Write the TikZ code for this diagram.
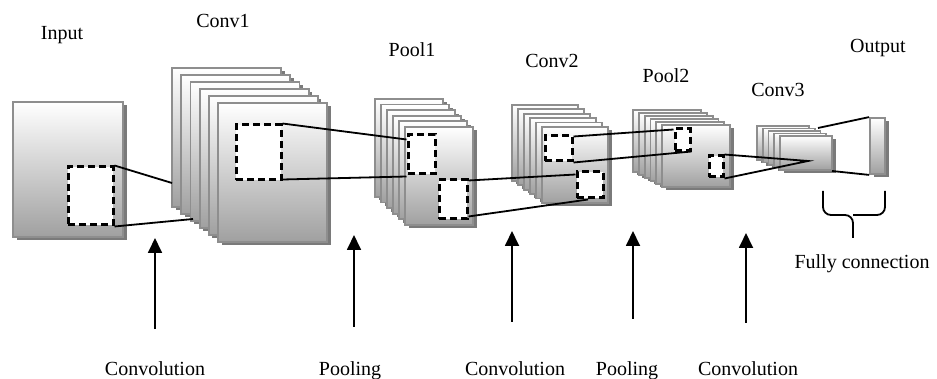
\documentclass[tikz,border=0pt]{standalone}
\usepackage{fontspec}
\setmainfont{Liberation Serif}
\usetikzlibrary{arrows.meta, shadows, calc}
\definecolor{sheetEdge}{HTML}{8E8E8E}
\definecolor{sheetLow}{HTML}{A0A0A0}
\definecolor{sheetShade}{HTML}{7A7A7A}

\begin{document}
\begin{tikzpicture}[x=1pt, y=-1pt,
  every node/.style={font=\fontsize{20}{23}\selectfont},
  sheet/.style={draw=sheetEdge, line width=1.8pt, top color=white, bottom color=sheetLow,
    drop shadow={shadow xshift=3.5pt, shadow yshift=-3.5pt, fill=sheetShade, opacity=1}},
  window/.style={draw=black, fill=white, line width=3pt, dash pattern=on 7pt off 4pt, inner sep=0pt},
  link/.style={black, line width=1.8pt},
  uparrow/.style={-{Triangle[length=15pt, width=14pt]}, line width=1.8pt},
  lbl/.style={anchor=base}]
  \useasboundingbox (0,0) rectangle (937,379);

  % input image
  \node[sheet, minimum width=110pt, minimum height=135pt, inner sep=0pt] (inp) at (68,169.5) {};
  \node[window, minimum width=45pt, minimum height=58pt] (inwin) at (90.5,196) {};

  % feature map stacks, back to front
  \foreach \i in {0,...,5}
    \draw[sheet] (172+9.2*\i, 68+7*\i) rectangle ++(109,139);
  \node[window, minimum width=45pt, minimum height=55pt] (c1win) at (258.5,152.5) {};

  \foreach \i in {0,...,5}
    \draw[sheet] (375+6*\i, 99+5.6*\i) rectangle ++(68,98);
  \node[window, minimum width=27pt, minimum height=39pt] (p1a) at (421.5,154.5) {};
  \node[window, minimum width=28pt, minimum height=39pt] (p1b) at (453,199.5) {};

  \foreach \i in {0,...,5}
    \draw[sheet] (512+6*\i, 105+4.4*\i) rectangle ++(66,76);
  \node[window, minimum width=27pt, minimum height=25pt] (c2a) at (558.5,148.5) {};
  \node[window, minimum width=26pt, minimum height=26pt] (c2b) at (590,185) {};

  \foreach \i in {0,...,5}
    \draw[sheet] (633+5.8*\i, 110+3*\i) rectangle ++(68,62);
  \node[window, minimum width=15pt, minimum height=22pt] (p2a) at (682.5,140) {};
  \node[window, minimum width=14pt, minimum height=21pt] (p2b) at (716,166.5) {};

  \foreach \i in {0,...,4}
    \draw[sheet] (757+5.75*\i, 126+2.5*\i) rectangle ++(52,34);
  \coordinate (c3focus) at (808,161);
  \coordinate (c3top) at (818,128);
  \coordinate (c3bot) at (832,171);

  % output layer
  \node[sheet, minimum width=15pt, minimum height=56pt, inner sep=0pt] (out) at (877.5,146) {};

  % receptive field links
  \coordinate (c1in1) at (172,183);
  \coordinate (c1in2) at (193,219);
  \draw[link] (inwin.north east) -- (c1in1);
  \draw[link] (inwin.south east) -- (c1in2);
  \draw[link] (c1win.north east) -- ([yshift=-6pt]p1a.north west);
  \draw[link] ([yshift=2pt]c1win.south east) -- ([yshift=-1pt]p1a.south west);
  \draw[link] ([yshift=-2pt]p1b.north east) -- ([yshift=-4pt]c2b.north west);
  \draw[link] ([yshift=4pt]p1b.south east) -- ([xshift=-2pt]c2b.south);
  \draw[link] ([yshift=-2pt]c2a.north east) -- ([yshift=-2pt]p2a.north west);
  \draw[link] (c2a.south east) -- ([yshift=1pt]p2a.south east);
  \draw[link] (p2b.north east) -- (c3focus) -- (p2b.south east);
  \draw[link] (c3top) -- (out.north west);
  \draw[link] (c3bot) -- (out.south west);

  % brace under the fully connected part
  \draw[line width=1.8pt, rounded corners=8pt] (823,191) -- (823,215) -- (853,215) -- (853,238);
  \draw[line width=1.8pt, rounded corners=8pt] (885,191) -- (885,215) -- (853,215);
  \node[lbl] (fc) at (862,269) {Fully connection};

  % layer names
  \node[lbl] (tinp) at (62,40) {Input};
  \node[lbl] (tc1) at (223,28) {Conv1};
  \node[lbl] (tp1) at (412,57) {Pool1};
  \node[lbl] (tc2) at (552,68) {Conv2};
  \node[lbl] (tp2) at (666,83) {Pool2};
  \node[lbl] (tc3) at (778,97) {Conv3};
  \node[lbl] (tout) at (878,53) {Output};

  % operations
  \foreach \x/\lx/\yb/\yt/\n/\t in {155/155/329/238/1/Convolution, 354/350/327/235/2/Pooling,
      512/515/322/231/3/Convolution, 633/627/319/231/4/Pooling, 746/748/323/233/5/Convolution} {
    \node[lbl] (op\n) at (\lx,375) {\t};
    \coordinate (tail\n) at (\x,\yb);
    \coordinate (tip\n) at (\x,\yt);
    \draw[uparrow] (tail\n) -- (tip\n);
  }
\end{tikzpicture}
\end{document}
